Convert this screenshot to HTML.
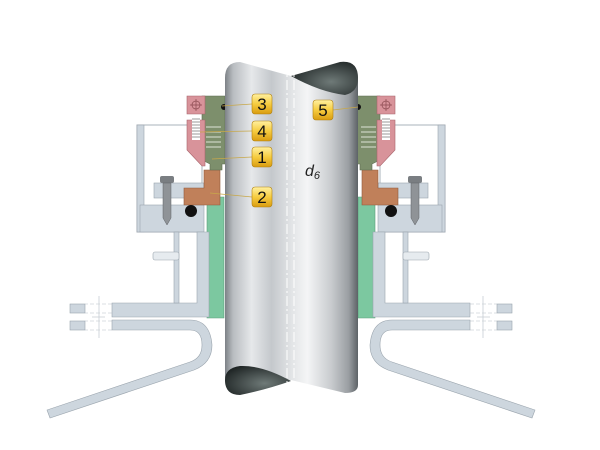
<!DOCTYPE html>
<html><head><meta charset="utf-8"><style>
html,body{margin:0;padding:0;background:#fff;width:600px;height:450px;overflow:hidden}
</style></head><body>
<svg width="600" height="450" viewBox="0 0 600 450" xmlns="http://www.w3.org/2000/svg">
<defs>
<linearGradient id="sh" x1="0" x2="1" y1="0" y2="0">
<stop offset="0" stop-color="#7c8186"/><stop offset="0.06" stop-color="#b8bcc0"/>
<stop offset="0.2" stop-color="#e6e8ea"/><stop offset="0.35" stop-color="#c4c8cc"/>
<stop offset="0.5" stop-color="#e2e4e6"/><stop offset="0.62" stop-color="#f4f5f6"/>
<stop offset="0.8" stop-color="#c8cbce"/><stop offset="0.93" stop-color="#9a9ea2"/>
<stop offset="1" stop-color="#5d6266"/></linearGradient>
<radialGradient id="dk" cx="0.6" cy="0.6" r="0.7"><stop offset="0" stop-color="#6f7a78"/><stop offset="1" stop-color="#1e2424"/></radialGradient>
<linearGradient id="yl" x1="0" x2="0" y1="0" y2="1"><stop offset="0" stop-color="#fff0a0"/><stop offset="0.5" stop-color="#f6cc40"/><stop offset="1" stop-color="#d99c10"/></linearGradient>
<g id="side">
 <!-- frame box -->
 <rect x="380" y="125" width="65" height="107" fill="#fff" stroke="#aab3bb" stroke-width="1"/>
 <rect x="438" y="125" width="7" height="107" fill="#cdd6de" stroke="#9aa4ad" stroke-width="0.6"/>
 <!-- green sleeve -->
 <path d="M358 197 L375 197 L375 318 L358 318 Z" fill="#7cc8a0" stroke="#5a9c7a" stroke-width="0.6"/>
 <!-- lower block -->
 <rect x="378" y="205" width="64" height="27" fill="#cdd6de" stroke="#9aa4ad" stroke-width="0.6"/>
 <!-- L frame -->
 <path d="M373 232 L385 232 L385 303 L470 303 L470 317 L373 317 Z" fill="#cdd6de" stroke="#9aa4ad" stroke-width="0.6"/>
 <rect x="403" y="232" width="5" height="71" fill="#cdd6de" stroke="#9aa4ad" stroke-width="0.6"/>
 <rect x="403" y="252" width="26" height="8" rx="2" fill="#e6ebef" stroke="#9aa4ad" stroke-width="0.6"/>
 <!-- flanges -->
 <rect x="497" y="304" width="15" height="9" fill="#cdd6de" stroke="#9aa4ad" stroke-width="0.6"/>
 <rect x="497" y="321" width="15" height="9" fill="#cdd6de" stroke="#9aa4ad" stroke-width="0.6"/>
 <path d="M470 304 H497 M470 313 H497 M470 321 H497 M470 330 H497" stroke="#b8c0c8" stroke-width="0.6" stroke-dasharray="4,2"/>
 <path d="M483 296 V338 M477 317 H490" stroke="#c8ced4" stroke-width="0.8"/>
 <!-- hook plate -->
 <path d="M470 320 L470 330 L392 330 Q380 330 380 345 Q380 358 392 362 L535 410 L532 418 L388 370 Q370 363 370 345 Q372 320 392 320 Z" fill="#cdd6de" stroke="#9aa4ad" stroke-width="0.6"/>
 <!-- plate -->
 <rect x="378" y="183" width="50" height="15" fill="#cdd6de" stroke="#9aa4ad" stroke-width="0.6"/>
 <!-- bolt -->
 <rect x="408" y="176" width="14" height="7" rx="2" fill="#7a7e82"/>
 <path d="M411 183 H419 V218 L415 225 L411 218 Z" fill="#8f9397" stroke="#5e6266" stroke-width="0.5"/>
 <!-- copper -->
 <path d="M362 170 H378 V188 H398 V205 H362 Z" fill="#c0805a" stroke="#8f5a3c" stroke-width="0.6"/>
 <circle cx="391" cy="211" r="6" fill="#111"/>
 <!-- olive body -->
 <path d="M357 96 H380 V160 L372 164 V170 H360 V164 H357 Z" fill="#7d8f6c" stroke="#5e6c50" stroke-width="0.6"/>
 <path d="M361 127 H376 M361 132 H376 M361 137 H376 M361 142 H376 M361 147 H376" stroke="#dde3d6" stroke-width="1"/>
 <circle cx="358" cy="107" r="3" fill="#111"/>
 <!-- pink -->
 <path d="M377 96 H395 V114 H377 Z" fill="#d8939a" stroke="#a8656c" stroke-width="0.6"/>
 <path d="M377 120 H395 V150 L380 166 H377 Z" fill="#d8939a" stroke="#a8656c" stroke-width="0.6"/>
 <rect x="382" y="116" width="8" height="24" fill="#fff"/>
 <path d="M382 119 H390 M382 122 H390 M382 125 H390 M382 128 H390 M382 131 H390 M382 134 H390 M382 137 H390" stroke="#777" stroke-width="0.8"/>
 <circle cx="386" cy="105" r="4" fill="none" stroke="#8a4a50" stroke-width="0.7"/>
 <path d="M380 105 H392 M386 99 V111" stroke="#8a4a50" stroke-width="0.7"/>
</g>
</defs>
<use href="#side"/>
<use href="#side" transform="translate(582,0) scale(-1,1)"/>
<!-- shaft -->
<path d="M225 78 Q225 62 240 62 L291 76 L345 62 Q358 62 358 80 L358 385 Q358 393 345 393 L291 380 L240 393 Q225 393 225 380 Z" fill="url(#sh)"/>
<path d="M291 76 L340 62 Q358 60 358 78 Q358 92 345 95 Q320 92 291 76 Z" fill="url(#dk)"/>
<path d="M291 381 Q262 365 240 366 Q225 368 225 380 Q225 395 240 395 Q265 390 291 381 Z" fill="url(#dk)"/>
<path d="M287 62 V395 M294 62 V395" stroke="#fff" stroke-width="1" stroke-dasharray="10,3,2,3"/>
<text x="305" y="176" font-family="Liberation Sans, sans-serif" font-style="italic" font-size="16" fill="#222">d<tspan font-size="11" dy="3">6</tspan></text>
<!-- leaders -->
<g stroke="#c8a84a" stroke-width="0.8">
<line x1="222" y1="106" x2="252" y2="104"/><line x1="200" y1="132" x2="252" y2="131"/>
<line x1="212" y1="159" x2="252" y2="157"/><line x1="210" y1="193" x2="252" y2="197"/>
<line x1="333" y1="110" x2="358" y2="107"/>
</g>
<g font-family="Liberation Sans, sans-serif" font-size="17" text-anchor="middle" fill="#111">
<rect x="252" y="94" width="20" height="20" rx="3" fill="url(#yl)" stroke="#b08010" stroke-width="0.6"/><text x="262" y="110">3</text>
<rect x="252" y="121" width="20" height="20" rx="3" fill="url(#yl)" stroke="#b08010" stroke-width="0.6"/><text x="262" y="137">4</text>
<rect x="252" y="147" width="20" height="20" rx="3" fill="url(#yl)" stroke="#b08010" stroke-width="0.6"/><text x="262" y="163">1</text>
<rect x="252" y="187" width="20" height="20" rx="3" fill="url(#yl)" stroke="#b08010" stroke-width="0.6"/><text x="262" y="203">2</text>
<rect x="313" y="100" width="20" height="20" rx="3" fill="url(#yl)" stroke="#b08010" stroke-width="0.6"/><text x="323" y="116">5</text>
</g>
</svg>
</body></html>
